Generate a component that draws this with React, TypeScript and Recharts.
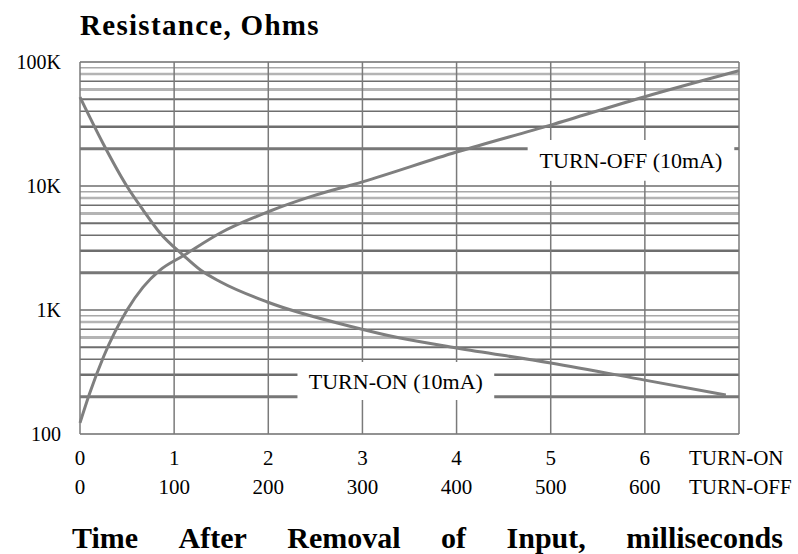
import { LineChart, Line, XAxis, YAxis, ReferenceLine, ReferenceArea } from 'recharts'

// time axis in TURN-ON units (ms for turn-on, x100 ms for turn-off)
const xTicks = [0, 1, 2, 3, 4, 5, 6, 7]
const yTicks = [100, 1000, 10000, 100000]
const yTickLabels = ['100', '1K', '10K', '100K']
const decades = [100, 1000, 10000]
const mantissas = [1, 2, 3, 4, 5, 6, 7, 8, 9]

// rising curve (turn-off)
const turnOffX = [0, 0.1, 0.25, 0.5, 0.67, 0.85, 1.1, 1.49, 2, 2.45, 3, 4, 5, 6, 7]
const turnOffR = [123, 210, 420, 1000, 1530, 2100, 2750, 4180, 6200, 8200, 10800, 18800, 31000, 52500, 85000]

// falling curve (turn-on)
const turnOnX = [0, 0.245, 0.5, 0.67, 0.85, 1.1, 1.28, 1.49, 1.99, 2.9, 3.4, 4, 5, 6, 6.86]
const turnOnR = [52000, 22000, 9900, 6400, 4180, 2750, 2100, 1690, 1160, 730, 594, 494, 374, 272, 206]

const labelBoxes = [
  { text: 'TURN-OFF (10mA)', x1: 4.755, x2: 6.95, y1: 11000, y2: 23500 },
  { text: 'TURN-ON (10mA)', x1: 2.31, x2: 4.4, y1: 188, y2: 380 },
]

const FONT = '"Times New Roman", "Liberation Serif", Times, "DejaVu Serif", "Noto Serif", serif'
const LINE = '#7f7f7f'

const gridStyle: Record<number, { stroke: string; w: number }> = {
  1: { stroke: '#6e6e6e', w: 1.5 },
  2: { stroke: '#777', w: 3 },
  3: { stroke: '#6e6e6e', w: 2.5 },
  4: { stroke: '#6e6e6e', w: 1.5 },
  5: { stroke: '#6e6e6e', w: 2 },
  6: { stroke: '#b4b4b4', w: 3 },
  7: { stroke: '#6e6e6e', w: 1.5 },
  8: { stroke: '#b4b4b4', w: 2.5 },
  9: { stroke: '#a8a8a8', w: 1.5 },
}

const offData = turnOffX.map((x, i) => ({ x, v: turnOffR[i] }))
const onData = turnOnX.map((x, i) => ({ x, v: turnOnR[i] }))

// split a [lo, hi] span around label boxes
function split(lo: number, hi: number, gaps: Array<[number, number]>) {
  let parts: Array<[number, number]> = [[lo, hi]]
  gaps.forEach(([a, b]) => {
    const next: Array<[number, number]> = []
    parts.forEach(([s, e]) => {
      if (b <= s || a >= e) next.push([s, e])
      else {
        if (a > s) next.push([s, a])
        if (b < e) next.push([b, e])
      }
    })
    parts = next
  })
  return parts
}

const levels: Array<{ v: number; m: number }> = []
decades.forEach((d) => mantissas.forEach((m) => levels.push({ v: m * d, m })))
levels.push({ v: 100000, m: 1 })

const XTick = (props: any) => {
  const { x, y, payload } = props
  const v = payload.value
  if (v === 7) {
    return (
      <g style={{ fontFamily: FONT }} fontSize={21} fill="#000">
        <text x={x - 50} y={y + 31} textAnchor="start" fill="#000">TURN-ON</text>
        <text x={x - 50} y={y + 60} textAnchor="start" fill="#000">TURN-OFF</text>
      </g>
    )
  }
  return (
    <g style={{ fontFamily: FONT }} fontSize={21} fill="#000">
      <text x={x} y={y + 31} textAnchor="middle" fill="#000">{v}</text>
      <text x={x} y={y + 60} textAnchor="middle" fill="#000">{v * 100}</text>
    </g>
  )
}

const YTick = (props: any) => {
  const { y, payload } = props
  const i = yTicks.indexOf(payload.value)
  return (
    <text x={61} y={y + 7} textAnchor="end" style={{ fontFamily: FONT }} fontSize={20} fill="#000">
      {yTickLabels[i]}
    </text>
  )
}

export default function App() {
  return (
    <div style={{ position: 'absolute', left: 0, top: 0, width: 798, height: 554, background: '#fff', fontFamily: FONT }}>
      <div
        style={{
          position: 'absolute',
          left: 80,
          top: 11,
          fontSize: 29,
          fontWeight: 'bold',
          letterSpacing: 1.3,
          lineHeight: 1,
          whiteSpace: 'nowrap',
        }}
      >
        Resistance, Ohms
      </div>
      <LineChart width={798} height={554} margin={{ top: 62, right: 59, bottom: 60, left: 0 }} style={{ fontFamily: FONT }}>
        <XAxis
          dataKey="x"
          type="number"
          domain={[0, 7]}
          ticks={xTicks}
          interval={0}
          tick={<XTick />}
          tickLine={false}
          axisLine={false}
          tickSize={0}
          tickMargin={0}
          height={60}
        />
        <YAxis
          type="number"
          scale="log"
          domain={[100, 100000]}
          ticks={yTicks}
          interval={0}
          tick={<YTick />}
          tickLine={false}
          axisLine={false}
          allowDataOverflow
          width={80}
        />
        {levels.map(({ v, m }) =>
          split(0, 7, labelBoxes.filter((b) => v >= b.y1 && v <= b.y2).map((b) => [b.x1, b.x2] as [number, number])).map(
            ([a, b], j) => (
              <ReferenceLine
                key={`h${v}-${j}`}
                segment={[{ x: a, y: v }, { x: b, y: v }]}
                stroke={gridStyle[m].stroke}
                strokeWidth={gridStyle[m].w}
              />
            )
          )
        )}
        {xTicks.map((t) =>
          split(100, 100000, labelBoxes.filter((b) => t >= b.x1 && t <= b.x2).map((b) => [b.y1, b.y2] as [number, number])).map(
            ([a, b], j) => (
              <ReferenceLine
                key={`v${t}-${j}`}
                segment={[{ x: t, y: a }, { x: t, y: b }]}
                stroke="#7a7a7a"
                strokeWidth={1.5}
              />
            )
          )
        )}
        {labelBoxes.map((b) => (
          <ReferenceArea
            key={b.text}
            x1={b.x1}
            x2={b.x2}
            y1={b.y1}
            y2={b.y2}
            fill="none"
            fillOpacity={0}
            stroke="none"
            label={{ value: b.text, position: 'center', fill: '#000', fontSize: 22, style: { fontFamily: FONT } }}
          />
        ))}
        <Line data={offData} dataKey="v" type="monotone" stroke={LINE} strokeWidth={3} dot={false} isAnimationActive={false} />
        <Line data={onData} dataKey="v" type="monotone" stroke={LINE} strokeWidth={3} dot={false} isAnimationActive={false} />
      </LineChart>
      <div
        style={{
          position: 'absolute',
          left: 72,
          top: 523,
          width: 711,
          display: 'flex',
          justifyContent: 'space-between',
          fontSize: 30,
          fontWeight: 'bold',
          lineHeight: 1,
          whiteSpace: 'nowrap',
        }}
      >
        <span>Time</span>
        <span>After</span>
        <span>Removal</span>
        <span>of</span>
        <span>Input,</span>
        <span>milliseconds</span>
      </div>
    </div>
  )
}
